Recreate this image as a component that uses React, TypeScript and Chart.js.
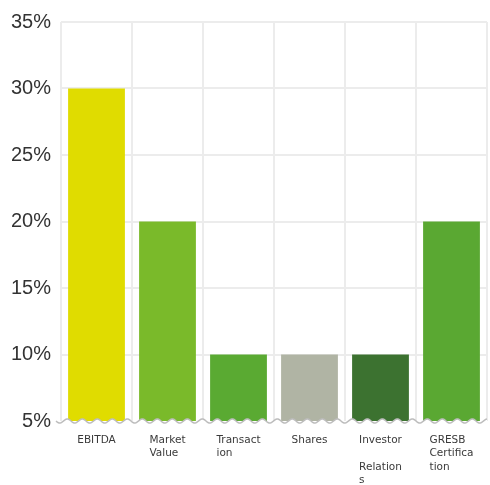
import React, { useEffect, useRef } from "react";
import { Chart, registerables } from "chart.js";

Chart.register(...registerables);

const categories = ["EBITDA", "Market Value", "Transaction", "Shares", "Investor Relations", "GRESB Certification"];
const tickLabels: string[][] = [
  ["EBITDA"],
  ["Market", "Value"],
  ["Transact", "ion"],
  ["Shares"],
  ["Investor", "", "Relation", "s"],
  ["GRESB", "Certifica", "tion"],
];
const values = [30, 20, 10, 10, 10, 20];
const barColors = ["#e0dc00", "#7aba2a", "#5aaa32", "#b0b4a4", "#3c7230", "#5aa832"];
const yMin = 5;
const yMax = 35;
const yStep = 5;

const labelPlugin = {
  id: "customLabels",
  afterDatasetsDraw(chart: any) {
    const { ctx, chartArea, scales } = chart;
    const xs = scales.x;
    const bottom = chartArea.bottom;
    const startX = chartArea.left - 5;
    const endX = chartArea.right;
    const period = 15;
    const amp = 2;
    ctx.save();
    ctx.beginPath();
    ctx.moveTo(startX, bottom);
    for (let x = startX; x <= endX; x += 1) {
      ctx.lineTo(x, bottom + amp * Math.sin(((x - startX) / period) * Math.PI * 2));
    }
    ctx.lineTo(endX, bottom + 6);
    ctx.lineTo(startX, bottom + 6);
    ctx.closePath();
    ctx.fillStyle = "#ffffff";
    ctx.fill();
    ctx.beginPath();
    for (let x = startX; x <= endX; x += 1) {
      const y = bottom + amp * Math.sin(((x - startX) / period) * Math.PI * 2);
      if (x === startX) ctx.moveTo(x, y);
      else ctx.lineTo(x, y);
    }
    ctx.strokeStyle = "#bdbdbd";
    ctx.lineWidth = 1.5;
    ctx.stroke();

    ctx.font = "10.5px 'DejaVu Sans', sans-serif";
    ctx.fillStyle = "#3a3a3a";
    ctx.textBaseline = "middle";
    ctx.textAlign = "left";
    const labels = chart.data.labels as string[][];
    labels.forEach((lines, i) => {
      const cx = xs.getPixelForTick(i);
      const w = Math.max(...lines.map((l) => ctx.measureText(l).width));
      const left = cx - w / 2;
      lines.forEach((l, j) => {
        ctx.fillText(l, left, bottom + 19 + j * 13.5);
      });
    });
    ctx.restore();
  },
};

export default function App() {
  const ref = useRef<HTMLCanvasElement | null>(null);
  useEffect(() => {
    if (!ref.current) return;
    const chart = new Chart(ref.current, {
      type: "bar",
      data: {
        labels: tickLabels as any,
        datasets: [
          {
            label: "Share",
            data: values,
            backgroundColor: barColors,
            borderWidth: 0,
            barPercentage: 0.8,
            categoryPercentage: 1,
          },
        ],
      },
      options: {
        animation: false,
        responsive: false,
        maintainAspectRatio: false,
        layout: { padding: { top: 19, right: 3, bottom: 64, left: 0 } },
        plugins: { legend: { display: false }, tooltip: { enabled: false } },
        scales: {
          x: {
            offset: true,
            grid: { offset: true, color: "#ececec", lineWidth: 2, drawTicks: false },
            border: { display: false },
            ticks: { display: false },
            afterFit: (s: any) => {
              s.height = 0;
            },
          },
          y: {
            min: yMin,
            max: yMax,
            ticks: {
              stepSize: yStep,
              padding: 10,
              color: "#333333",
              font: { size: 20, family: "'Liberation Sans', Arial, sans-serif" },
              callback: (v: any) => v + "%",
            },
            grid: {
              drawTicks: false,
              lineWidth: 2,
              color: (c: any) => (c.tick && c.tick.value === yMin ? "rgba(0,0,0,0)" : "#ececec"),
            },
            border: { display: false },
            afterFit: (s: any) => {
              s.width = 61;
            },
          },
        },
      },
      plugins: [labelPlugin],
    });
    return () => chart.destroy();
  }, []);
  return (
    <div style={{ position: "fixed", left: 0, top: 0, width: 490, height: 485, background: "#fff" }}>
      <canvas ref={ref} width={490} height={485} style={{ width: 490, height: 485 }} />
    </div>
  );
}
